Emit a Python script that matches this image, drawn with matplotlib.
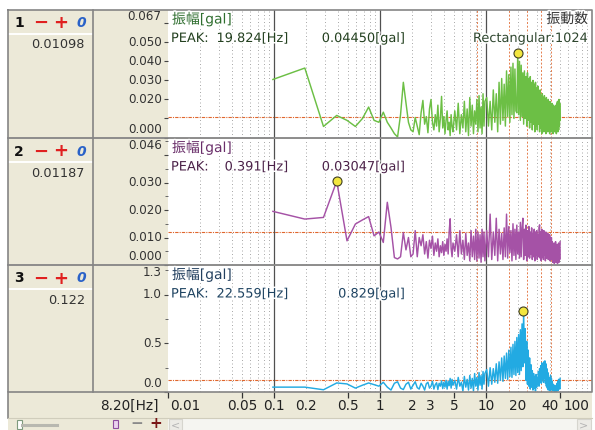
import numpy as np
import matplotlib
matplotlib.use('Agg')
from matplotlib import pyplot as plt
from matplotlib import patheffects
from matplotlib.patches import Rectangle
from matplotlib.ticker import FixedLocator, LogLocator, MultipleLocator, NullLocator

plt.rcParams['font.family'] = ['DejaVu Sans', 'Noto Sans CJK JP']

W, H = 595, 430

# ---- data: 1024-point spectrum (bins thinned above 5 Hz) ----
DF = 100 / 1024
BINS = list(range(1, 51)) + list(range(52, 101, 2)) + list(range(104, 513, 4))

AMP_1 = [
    0.0305, 0.0365, 0.0058, 0.0116, 0.0090, 0.0058, 0.0100, 0.0160, 0.0090, 0.0080,
    0.0133, 0.0080, 0.0050, 0.0020, 0.0003, 0.0120, 0.0290, 0.0180, 0.0080, 0.0040,
    0.0030, 0.0105, 0.0060, 0.0015, 0.0130, 0.0195, 0.0070, 0.0110, 0.0025, 0.0150,
    0.0200, 0.0080, 0.0040, 0.0120, 0.0060, 0.0170, 0.0030, 0.0100, 0.0216, 0.0050,
    0.0110, 0.0020, 0.0090, 0.0140, 0.0040, 0.0080, 0.0010, 0.0120, 0.0060, 0.0030,
    # 5 - 10 Hz
    0.0140, 0.0040, 0.0180, 0.0020, 0.0120, 0.0050, 0.0190, 0.0030, 0.0150, 0.0010,
    0.0210, 0.0060, 0.0170, 0.0020, 0.0140, 0.0070, 0.0200, 0.0030, 0.0220, 0.0050,
    0.0160, 0.0020, 0.0230, 0.0060, 0.0190,
    # 10 - 50 Hz
    0.021, 0.006, 0.019, 0.004, 0.025, 0.008, 0.023, 0.003, 0.029, 0.007,
    0.031, 0.009, 0.028, 0.006, 0.035, 0.011, 0.033, 0.008, 0.037, 0.012,
    0.039, 0.010, 0.036, 0.014, 0.013, 0.0445, 0.012, 0.040, 0.009, 0.038,
    0.011, 0.034, 0.007, 0.035, 0.010, 0.032, 0.006, 0.034, 0.009, 0.031,
    0.005, 0.032, 0.008, 0.029, 0.004, 0.030, 0.007, 0.028, 0.003, 0.029,
    0.006, 0.026, 0.004, 0.027, 0.007, 0.024, 0.003, 0.025, 0.005, 0.022,
    0.002, 0.023, 0.006, 0.021, 0.003, 0.022, 0.005, 0.020, 0.002, 0.021,
    0.006, 0.019, 0.003, 0.020, 0.005, 0.018, 0.002, 0.019, 0.006, 0.017,
    0.003, 0.018, 0.005, 0.016, 0.002, 0.017, 0.006, 0.016, 0.003, 0.015,
    0.004, 0.017, 0.002, 0.018, 0.005, 0.019, 0.003, 0.017, 0.004, 0.020,
    0.006, 0.018, 0.009,
]

AMP_2 = [
    0.0195, 0.0167, 0.0173, 0.03047, 0.0088, 0.0149, 0.0164, 0.0176, 0.0106, 0.0120,
    0.0082, 0.0228, 0.0137, 0.0027, 0.0022, 0.0030, 0.0118, 0.0055, 0.0100, 0.0030,
    0.0040, 0.0125, 0.0030, 0.0100, 0.0070, 0.0110, 0.0040, 0.0085, 0.0025, 0.0090,
    0.0060, 0.0105, 0.0035, 0.0080, 0.0050, 0.0095, 0.0030, 0.0070, 0.0045, 0.0085,
    0.0035, 0.0075, 0.0050, 0.0095, 0.0040, 0.0120, 0.0168, 0.0060, 0.0030, 0.0080,
    # 5 - 10 Hz
    0.0050, 0.0110, 0.0030, 0.0125, 0.0040, 0.0090, 0.0020, 0.0115, 0.0035, 0.0080,
    0.0015, 0.0125, 0.0030, 0.0105, 0.0020, 0.0130, 0.0015, 0.0120, 0.0025, 0.0110,
    0.0010, 0.0130, 0.0030, 0.0120, 0.0015,
    # 10 - 50 Hz
    0.0125, 0.0030, 0.0185, 0.0020, 0.0120, 0.0035, 0.0170, 0.0015, 0.0130, 0.0040,
    0.0115, 0.0020, 0.0135, 0.0030, 0.0185, 0.0025, 0.0140, 0.0045, 0.0125, 0.0015,
    0.0150, 0.0035, 0.0130, 0.0020, 0.0145, 0.0040, 0.0120, 0.0025, 0.0155, 0.0030,
    0.0135, 0.0170, 0.0020, 0.0130, 0.0035, 0.0145, 0.0015, 0.0125, 0.0030, 0.0140,
    0.0025, 0.0120, 0.0040, 0.0135, 0.0020, 0.0115, 0.0030, 0.0130, 0.0015, 0.0120,
    0.0035, 0.0125, 0.0020, 0.0110, 0.0030, 0.0135, 0.0146, 0.0025, 0.0120, 0.0015,
    0.0130, 0.0030, 0.0115, 0.0020, 0.0125, 0.0035, 0.0110, 0.0015, 0.0120, 0.0025,
    0.0105, 0.0030, 0.0115, 0.0020, 0.0100, 0.0035, 0.0110, 0.0015, 0.0095, 0.0025,
    0.0100, 0.0020, 0.0085, 0.0010, 0.0075, 0.0025, 0.0080, 0.0005, 0.0070, 0.0020,
    0.0085, 0.0010, 0.0065, 0.0025, 0.0075, 0.0005, 0.0070, 0.0015, 0.0080, 0.0010,
    0.0060, 0.0020, 0.0085,
]

AMP_3 = [
    0.050, 0.050, 0.023, 0.093, 0.083, 0.040, 0.070, 0.093, 0.075, 0.060,
    0.100, 0.050, 0.020, 0.090, 0.105, 0.040, 0.025, 0.080, 0.100, 0.030,
    0.070, 0.105, 0.045, 0.030, 0.090, 0.060, 0.020, 0.085, 0.100, 0.040,
    0.060, 0.110, 0.030, 0.075, 0.095, 0.025, 0.090, 0.060, 0.115, 0.035,
    0.100, 0.050, 0.120, 0.030, 0.110, 0.065, 0.140, 0.040, 0.130, 0.070,
    # 5 - 10 Hz
    0.120, 0.030, 0.150, 0.060, 0.100, 0.010, 0.160, 0.050, 0.130, 0.020,
    0.170, 0.040, 0.140, 0.010, 0.190, 0.060, 0.150, 0.020, 0.200, 0.070,
    0.170, 0.030, 0.210, 0.080, 0.190,
    # 10 - 50 Hz
    0.230, 0.060, 0.250, 0.080, 0.240, 0.100, 0.290, 0.090, 0.310, 0.120,
    0.350, 0.110, 0.370, 0.140, 0.400, 0.130, 0.430, 0.160, 0.460, 0.150,
    0.490, 0.180, 0.520, 0.170, 0.560, 0.200, 0.590, 0.180, 0.640, 0.220,
    0.700, 0.260, 0.829, 0.300, 0.650, 0.120, 0.520, 0.080, 0.430, 0.060,
    0.350, 0.030, 0.280, 0.050, 0.220, 0.020, 0.190, 0.040, 0.160, 0.010,
    0.180, 0.050, 0.150, 0.080, 0.210, 0.060, 0.240, 0.110, 0.270, 0.090,
    0.300, 0.130, 0.280, 0.100, 0.310, 0.140, 0.320, 0.090, 0.290, 0.060,
    0.240, 0.040, 0.200, 0.020, 0.150, 0.030, 0.120, 0.010, 0.170, 0.040,
    0.140, 0.020, 0.110, 0.010, 0.080, 0.030, 0.060, 0.005, 0.070, 0.020,
    0.050, 0.005, 0.060, 0.030, 0.090, 0.010, 0.110, 0.020, 0.130, 0.040,
    0.120, 0.030, 0.140,
]

FREQ = np.array(BINS) * DF
AMPS = [AMP_1, AMP_2, AMP_3]

LEVELS = [0.01098, 0.01187, 0.122]
LEVEL_TEXT = ['0.01098', '0.01187', '0.122']
PEAK_HZ = [19.824, 0.391, 22.559]
PEAK_GAL = [0.04450, 0.03047, 0.829]
PEAK_GAL_TEXT = ['0.04450', '0.03047', '0.829']
CURSOR_HZ = 8.20
HARMONICS = [8.2, 16.4, 24.6, 32.8, 41.0]

Y_TOP = [0.067, 0.046, 1.3]
Y_TOP_TEXT = ['0.067', '0.046', '1.3']
Y_LABELS = [[0.05, 0.04, 0.03, 0.02], [0.03, 0.02, 0.01], [1.0, 0.5]]
Y_FMT = ['{:.3f}', '{:.3f}', '{:.1f}']
Y_STEP = [0.01, 0.01, 0.5]
Y_MINOR = [None, 0.005, 0.25]

X_LABELS = [0.01, 0.05, 0.1, 0.2, 0.5, 1, 2, 3, 5, 10, 20, 40, 100]
X_MARKS = [0.01, 0.05, 0.1, 0.5, 1, 5, 10, 50]

# ---- styling ----
BEIGE = '#ECE9D8'
BORDER = '#858585'
ORANGE = '#E0672E'
LINE_COLORS = ['#6CBF45', '#A552A6', '#22AAE2']
TITLE_COLORS = ['#2F6E2F', '#6A2F6A', '#23405F']
PEAK_COLORS = ['#23401F', '#4C2249', '#1F4462']
ROWS = [(10, 137.5), (138.5, 265), (265.5, 392)]
HALO = [patheffects.withStroke(linewidth=2.2, foreground='white')]


def box(x0, y0, x1, y1):
    return [x0 / W, 1 - y1 / H, (x1 - x0) / W, (y1 - y0) / H]


fig = plt.figure(figsize=(W / 100, H / 100), dpi=100)
fig.patch.set_facecolor('white')

# background chrome in pixel coordinates
bg = fig.add_axes([0, 0, 1, 1], zorder=0)
bg.set_xlim(0, W)
bg.set_ylim(H, 0)
bg.axis('off')
bg.add_patch(Rectangle((8, 10), 584, 408, facecolor=BEIGE, edgecolor='none'))
bg.add_patch(Rectangle((8, 418), 160, 12, facecolor=BEIGE, edgecolor='none'))

# overlay for lines and texts that sit on top of the plots
fg = fig.add_axes([0, 0, 1, 1], zorder=5)
fg.set_xlim(0, W)
fg.set_ylim(H, 0)
fg.axis('off')
fg.patch.set_alpha(0)

for i, (top, bottom) in enumerate(ROWS):
    ax = fig.add_axes(box(168, top, 592, bottom), zorder=2)
    ax.set_facecolor('white')
    ax.set_xscale('log')
    ax.set_xlim(0.01, 100)
    ax.set_ylim(0, Y_TOP[i])
    for s in ax.spines.values():
        s.set_visible(False)

    ax.xaxis.set_major_locator(FixedLocator([0.1, 1, 10]))
    ax.xaxis.set_minor_locator(LogLocator(base=10, subs=np.arange(2, 10)))
    ax.grid(True, which='major', axis='x', color='#505050', lw=0.9, ls='-')
    ax.grid(True, which='minor', axis='x', color='#A8A8A8', lw=0.7, ls=(0, (1, 2.6)))
    ax.tick_params(axis='x', which='both', length=0, labelbottom=False)

    ax.yaxis.set_major_locator(MultipleLocator(Y_STEP[i]))
    if Y_MINOR[i]:
        ax.yaxis.set_minor_locator(MultipleLocator(Y_MINOR[i]))
    ax.tick_params(axis='y', which='major', direction='out', length=3, width=0.8,
                   color='#444444', labelleft=False)
    ax.tick_params(axis='y', which='minor', direction='out', length=2, width=0.7,
                   color='#666666')

    ax.axhline(LEVELS[i], color=ORANGE, lw=0.8, ls=(0, (3, 1, 1, 1)), zorder=1.5)
    for f in HARMONICS:
        ax.axvline(f, color=ORANGE, lw=0.7, ls=(0, (2, 1.8)), alpha=0.85, zorder=1.5)

    ax.plot(FREQ, AMPS[i], color=LINE_COLORS[i], lw=1.05, zorder=3)
    ax.plot(PEAK_HZ[i], PEAK_GAL[i], 'o', ms=6.5, mfc='#F2E640', mec='#3F3F22',
            mew=0.8, zorder=4, clip_on=False)

    # y tick labels
    fmt = Y_FMT[i]
    lab = dict(xycoords=('axes fraction', 'data'), textcoords='offset points',
               ha='right', va='center', fontsize=8.6, color='#333333',
               annotation_clip=False)
    for v in Y_LABELS[i]:
        ax.annotate(fmt.format(v), xy=(0, v), xytext=(-4.5, 0), **lab)
    ax.annotate(Y_TOP_TEXT[i], xy=(0, Y_TOP[i]), xytext=(-4.5, -5), **lab)
    ax.annotate(fmt.format(0), xy=(0, 0), xytext=(-4.5, 6), **lab)

    # texts inside the plot
    fg.text(172, top + 9, '振幅[gal]', fontsize=10, color=TITLE_COLORS[i],
            ha='left', va='center', path_effects=HALO)
    fg.text(171, top + 28.5, 'PEAK:', fontsize=9.3, color=PEAK_COLORS[i],
            ha='left', va='center', path_effects=HALO)
    fg.text(288, top + 28.5, f'{PEAK_HZ[i]:.3f}[Hz]', fontsize=9.3, color=PEAK_COLORS[i],
            ha='right', va='center', path_effects=HALO)
    fg.text(405, top + 28.5, f'{PEAK_GAL_TEXT[i]}[gal]', fontsize=9.3,
            color=PEAK_COLORS[i], ha='right', va='center', path_effects=HALO)

    # left column: channel header and level value
    fg.text(19, top + 13, str(i + 1), fontsize=10, fontweight='bold', color='#111111',
            ha='center', va='center')
    fg.text(41, top + 13, '\u2212', fontsize=13, fontweight='bold', color='#E02020',
            ha='center', va='center')
    fg.text(61, top + 13, '+', fontsize=13, fontweight='bold', color='#E02020',
            ha='center', va='center')
    fg.text(81, top + 13, '0', fontsize=10, fontweight='bold', style='italic',
            color='#2A62C8', ha='center', va='center')
    fg.plot([9, 92], [top + 23.5, top + 23.5], color='white', lw=1.4)
    fg.text(85, top + 35, LEVEL_TEXT[i], fontsize=9.3, color='#333333',
            ha='right', va='center')

fg.text(588, 19, '振動数', fontsize=10, color='#333333', ha='right', va='center',
        path_effects=HALO)
fg.text(588, 38.5, 'Rectangular:1024', fontsize=9.3, color='#2E462E', ha='right',
        va='center', path_effects=HALO)

# frame lines
fg.plot([8, 592, 592, 8, 8], [10, 10, 392, 392, 10], color=BORDER, lw=1.2)
for y in (137.9, 265.2):
    fg.plot([8, 592], [y, y], color=BORDER, lw=1.3)
fg.plot([93, 93], [10, 392], color=BORDER, lw=1.2)
fg.plot([8, 8], [392, 418], color=BORDER, lw=1.2)
fg.plot([8, 592], [417.5, 417.5], color='#D0CDBC', lw=0.8)

# x axis row
axx = fig.add_axes(box(168, 392, 592, 417), zorder=2)
axx.set_xscale('log')
axx.set_xlim(0.01, 100)
axx.set_ylim(0, 1)
axx.patch.set_alpha(0)
for s in axx.spines.values():
    s.set_visible(False)
axx.xaxis.set_major_locator(FixedLocator(X_MARKS))
axx.xaxis.set_minor_locator(NullLocator())
axx.tick_params(axis='x', which='major', top=True, bottom=False, direction='in',
                length=4.5, width=0.9, color='#333333', labeltop=False, labelbottom=False)
axx.set_yticks([])
for v in X_LABELS:
    ha, dx = 'center', 0
    if v == X_LABELS[0]:
        ha, dx = 'left', 1.5
    elif v == X_LABELS[-1]:
        ha, dx = 'right', -1.5
    axx.annotate(f'{v:g}', xy=(v, 0.45), xycoords=('data', 'axes fraction'),
                 xytext=(dx, 0), textcoords='offset points', ha=ha, va='center',
                 fontsize=9.8, color='#222222', annotation_clip=False)
fg.text(159, 405.5, f'{CURSOR_HZ:.2f}[Hz]', fontsize=9.8, color='#222222',
        ha='right', va='center')

# bottom strip: slider, zoom buttons, scrollbar
fg.plot([22, 57], [424.5, 424.5], color='#B8B8B0', lw=2.2)
fg.add_patch(Rectangle((17, 420), 5, 9, facecolor='white', edgecolor='#7E9A7E', lw=0.8))
fg.add_patch(Rectangle((113, 420), 5, 8, facecolor='#EBD3EF', edgecolor='#8E4E9E', lw=0.8))
fg.text(137, 424, '\u2212', fontsize=11, fontweight='bold', color='#8A8A8A',
        ha='center', va='center')
fg.text(156, 424, '+', fontsize=11, fontweight='bold', color='#7A1818',
        ha='center', va='center')
fg.add_patch(Rectangle((168, 418), 424, 12, facecolor='#F5F5F1', edgecolor='none'))
fg.add_patch(Rectangle((169, 419), 13, 11, facecolor='#ECEBE6', edgecolor='#D6D5CE', lw=0.8))
fg.add_patch(Rectangle((577, 419), 14, 11, facecolor='#ECEBE6', edgecolor='#D6D5CE', lw=0.8))
fg.text(175.5, 425, '<', fontsize=8, color='#B5B5B5', ha='center', va='center')
fg.text(584, 425, '>', fontsize=8, color='#B5B5B5', ha='center', va='center')

fig.savefig('out.png', dpi=100, facecolor='white')
